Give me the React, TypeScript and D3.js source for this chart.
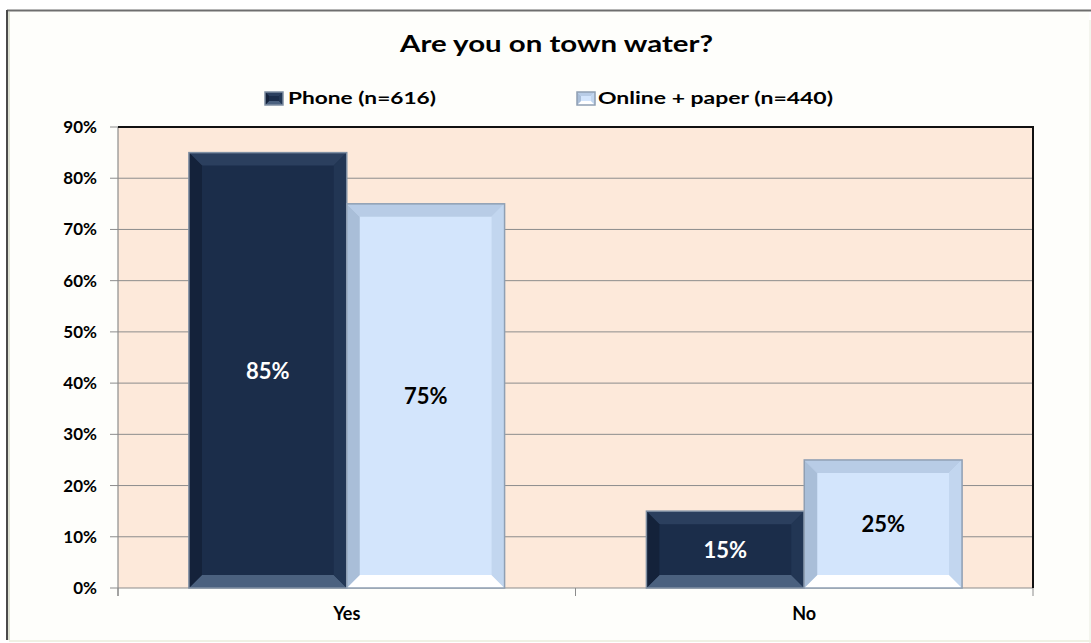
import React from "react";
import * as d3 from "d3";

const categories = ["Yes", "No"];
const seriesNames = ["Phone (n=616)", "Online + paper (n=440)"];
const phoneValues = [0.85, 0.15];
const onlineValues = [0.75, 0.25];
const yTicks = [0, 0.1, 0.2, 0.3, 0.4, 0.5, 0.6, 0.7, 0.8, 0.9];
const title = "Are you on town water?";

const W = 1091, H = 643;
const plot = { left: 118, right: 1033, top: 127, bottom: 588 };
const FONT = "Lato, 'Open Sans', sans-serif";

const palettes = [
  { body: "#1B2D4A", top: "#2B3F5E", bottom: "#4B617F", left: "#14223A", right: "#223654", stroke: "#7F8FA3", text: "#FFFFFF" },
  { body: "#D3E5FC", top: "#B8CCE6", bottom: "#FFFFFF", left: "#A9BED8", right: "#C2D6EF", stroke: "#8F9FB3", text: "#000000" },
];

function BevelRect({ x, y, w, h, p, b }: any) {
  const bb = Math.min(b, w / 2, h / 2);
  const x1 = x + w, y1 = y + h;
  const pts = (arr: number[][]) => arr.map((q) => q.join(",")).join(" ");
  return (
    <g>
      <rect x={x} y={y} width={w} height={h} fill={p.body} />
      <polygon points={pts([[x, y], [x1, y], [x1 - bb, y + bb], [x + bb, y + bb]])} fill={p.top} />
      <polygon points={pts([[x, y1], [x1, y1], [x1 - bb, y1 - bb], [x + bb, y1 - bb]])} fill={p.bottom} />
      <polygon points={pts([[x, y], [x + bb, y + bb], [x + bb, y1 - bb], [x, y1]])} fill={p.left} />
      <polygon points={pts([[x1, y], [x1 - bb, y + bb], [x1 - bb, y1 - bb], [x1, y1]])} fill={p.right} />
      <rect x={x} y={y} width={w} height={h} fill="none" stroke={p.stroke} strokeWidth={1.5} />
    </g>
  );
}

export default function App() {
  const x0 = d3.scaleBand<string>().domain(categories).range([plot.left, plot.right]).paddingInner(0.31).paddingOuter(0.155);
  const x1 = d3.scaleBand<string>().domain(seriesNames).range([0, x0.bandwidth()]);
  const y = d3.scaleLinear().domain([0, 0.9]).range([plot.bottom, plot.top]);
  const series = [phoneValues, onlineValues];
  const fmt = d3.format(".0%");
  const legend = [
    { sx: 265, tx: 288, len: 148 },
    { sx: 577, tx: 598, len: 235 },
  ];

  return (
    <svg width={W} height={H} style={{ position: "absolute", left: 0, top: 0, background: "#FFFFFF" }} fontFamily={FONT}>
      {/* outer frame */}
      <rect x={7} y={10.5} width={1082} height={631} fill="#FEFEFB" stroke="none" />
      <line x1={7} y1={10.5} x2={1091} y2={10.5} stroke="#6E6E6E" strokeWidth={2} />
      <line x1={7} y1={10} x2={7} y2={640} stroke="#4A4A4A" strokeWidth={2} />
      <line x1={9} y1={12} x2={9} y2={640} stroke="#DDE0D2" strokeWidth={2} />
      <line x1={1090} y1={20} x2={1090} y2={643} stroke="#E8EBDC" strokeWidth={1} />
      <line x1={9} y1={641} x2={1091} y2={641} stroke="#EFF1E4" strokeWidth={2} />

      <text x={556.5} y={52} textAnchor="middle" fontSize={23} fontWeight={700} fill="#000" textLength={313} lengthAdjust="spacingAndGlyphs">{title}</text>

      {/* legend */}
      {legend.map((l, i) => (
        <g key={i}>
          <BevelRect x={l.sx} y={92} w={18} h={13} p={palettes[i]} b={4} />
          <text x={l.tx} y={104} fontSize={17.5} fontWeight={700} fill="#000" textLength={l.len} lengthAdjust="spacingAndGlyphs">{seriesNames[i]}</text>
        </g>
      ))}

      {/* plot background */}
      <rect x={plot.left} y={plot.top} width={plot.right - plot.left} height={plot.bottom - plot.top} fill="#FDE9DA" />
      {yTicks.map((t) => (
        <g key={t}>
          {t > 0 && t < 0.9 && (
            <line x1={plot.left} x2={plot.right} y1={y(t)} y2={y(t)} stroke="#8C8C8C" strokeWidth={1} />
          )}
          <line x1={110} x2={plot.left} y1={y(t)} y2={y(t)} stroke="#8C8C8C" strokeWidth={1} />
          <text x={97} y={y(t) + 6} textAnchor="end" fontSize={17} fontWeight={700} fill="#000">{fmt(t)}</text>
        </g>
      ))}
      {/* plot border */}
      <line x1={plot.left} x2={plot.left} y1={plot.top} y2={plot.bottom + 8} stroke="#8C8C8C" strokeWidth={1.2} />
      <line x1={plot.left} x2={plot.right} y1={plot.bottom} y2={plot.bottom} stroke="#8C8C8C" strokeWidth={1.2} />
      <line x1={plot.left} x2={plot.right + 1} y1={plot.top} y2={plot.top} stroke="#111" strokeWidth={2} />
      <line x1={plot.right} x2={plot.right} y1={plot.top} y2={plot.bottom} stroke="#111" strokeWidth={2} />
      {[...categories.map((c) => (x0(c) as number) - x0.step() * 0.155), plot.right].map((xx, i) => (
        <line key={i} x1={i === 0 ? plot.left : xx} x2={i === 0 ? plot.left : xx} y1={plot.bottom} y2={plot.bottom + 8} stroke="#8C8C8C" strokeWidth={1} />
      ))}

      {/* bars */}
      {categories.map((c, ci) => (
        <g key={c}>
          {series.map((vals, si) => {
            const bx = (x0(c) as number) + (x1(seriesNames[si]) as number);
            const bw = x1.bandwidth();
            const by = y(vals[ci]);
            const bh = plot.bottom - by;
            return (
              <g key={si}>
                <BevelRect x={bx} y={by} w={bw} h={bh} p={palettes[si]} b={13} />
                <text x={bx + bw / 2} y={by + bh / 2 + 8.5} textAnchor="middle" fontSize={22} fontWeight={700} fill={palettes[si].text}>
                  {fmt(vals[ci])}
                </text>
              </g>
            );
          })}
          <text x={(x0(c) as number) + x0.bandwidth() / 2} y={620} textAnchor="middle" fontSize={18} fontWeight={700} fill="#000">{c}</text>
        </g>
      ))}
    </svg>
  );
}
